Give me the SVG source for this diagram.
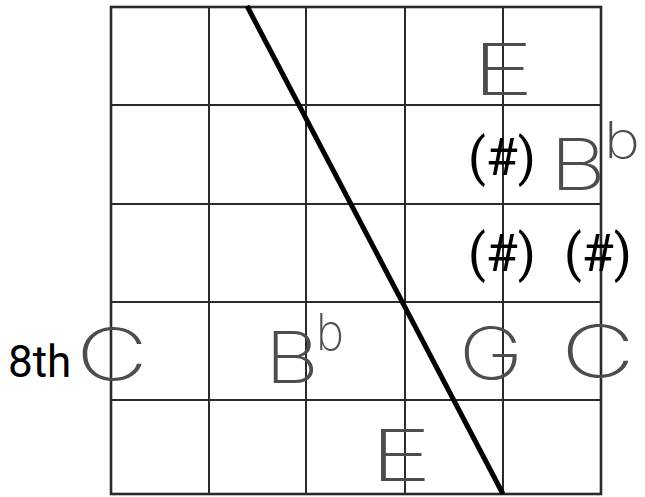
<svg xmlns="http://www.w3.org/2000/svg" width="645" height="497" viewBox="0 0 645 497">
<style>
.grid{stroke:#2a2a2a;stroke-width:2;fill:none;stroke-linecap:square}
.edge{stroke:#2a2a2a;stroke-width:2.6;fill:none}
.hand{font-family:"Inter","Lato","Liberation Sans",sans-serif;font-weight:200;fill:#4d4d4d;font-size:72px}
.sup{font-size:50px}
.print{font-family:"Roboto","Liberation Sans",sans-serif;fill:#000}
.sharp{font-size:52px;text-anchor:middle}
</style>
<rect width="645" height="497" fill="#fff"/>
<g id="grid">
<path class="grid" d="M209 7V494M306 7V494M405 7V494M503 7V494M111 105H601M111 204H601M111 302H601M111 400H601"/>
<rect class="edge" x="111" y="7" width="490" height="487"/>
</g>
<g id="connectors">
<line x1="247" y1="6" x2="503" y2="494" stroke="#000" stroke-width="5"/>
</g>
<g id="label-8th"><text class="print" x="8" y="377" font-size="44">8th</text></g>
<g id="note-E-top"><text class="hand" x="472" y="95" textLength="62" lengthAdjust="spacingAndGlyphs">E</text></g>
<g id="sharp-1"><text class="print sharp" x="502" y="175">(#)</text></g>
<g id="note-Bb-top"><text class="hand" x="550" y="190" textLength="56" lengthAdjust="spacingAndGlyphs">B</text><text class="hand sup" x="604" y="158" textLength="36" lengthAdjust="spacingAndGlyphs">b</text></g>
<g id="sharp-2"><text class="print sharp" x="502" y="271">(#)</text></g>
<g id="sharp-3"><text class="print sharp" x="598" y="271">(#)</text></g>
<g id="note-C-left"><text class="hand" x="76" y="380" textLength="72" lengthAdjust="spacingAndGlyphs">C</text></g>
<g id="note-Bb-mid"><text class="hand" x="265" y="383" textLength="54" lengthAdjust="spacingAndGlyphs">B</text><text class="hand sup" x="316" y="350" textLength="28" lengthAdjust="spacingAndGlyphs">b</text></g>
<g id="note-G"><text class="hand" x="459" y="379" textLength="64" lengthAdjust="spacingAndGlyphs">G</text></g>
<g id="note-C-right"><text class="hand" x="561" y="377" textLength="74" lengthAdjust="spacingAndGlyphs">C</text></g>
<g id="note-E-bottom"><text class="hand" x="370" y="481" textLength="62" lengthAdjust="spacingAndGlyphs">E</text></g>
</svg>
